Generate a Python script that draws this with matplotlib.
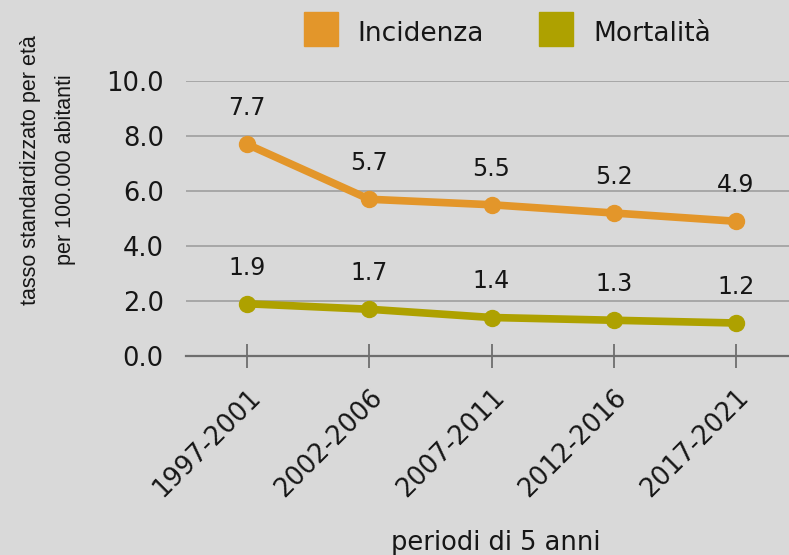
import matplotlib.pyplot as plt
from matplotlib.lines import Line2D

plt.rcParams['font.family'] = ['DejaVu Sans']

periods = ['1997-2001', '2002-2006', '2007-2011', '2012-2016', '2017-2021']
incidenza = [7.7, 5.7, 5.5, 5.2, 4.9]
mortalita = [1.9, 1.7, 1.4, 1.3, 1.2]
yticks = [0, 2, 4, 6, 8, 10]

c_inc = '#e3962a'
c_mor = '#aea100'
bg = '#d9d9d9'
txt = '#161616'

fig = plt.figure(figsize=(7.89, 5.55), dpi=100, facecolor=bg)
ax = fig.add_axes([186 / 789, 199 / 555, 611 / 789, 275 / 555], facecolor=bg)

x = list(range(len(periods)))
for vals, col in [(incidenza, c_inc), (mortalita, c_mor)]:
    ax.plot(x, vals, color=col, lw=5.5, marker='o', ms=11.5, solid_capstyle='round', zorder=3)
    for xi, v in zip(x, vals):
        ax.annotate('%.1f' % v, (xi, v), xytext=(0, 21), textcoords='offset points',
                    ha='center', va='baseline', fontsize=17, color=txt)

ax.set_xlim(-0.5, 4.5)
ax.set_ylim(0, 10)
ax.set_yticks(yticks)
ax.set_yticklabels(['%.1f' % t for t in yticks], fontsize=18.5, color=txt)
ax.yaxis.grid(True, color='#a3a3a3', lw=1.3)
ax.set_axisbelow(True)
ax.tick_params(axis='y', length=0, pad=16)

ax.set_xticks(x)
ax.set_xticklabels(periods, rotation=45, ha='right', va='top', rotation_mode='anchor',
                   fontsize=18.5, color=txt)
ax.tick_params(axis='x', direction='inout', length=17, width=1.3, color='#6e6e6e', pad=12)

for s in ['top', 'right', 'left']:
    ax.spines[s].set_visible(False)
ax.spines['bottom'].set_color('#6e6e6e')
ax.spines['bottom'].set_linewidth(1.6)

fig.text(48 / 789, 1 - 170 / 555, 'tasso standardizzato per età\nper 100.000 abitanti',
         rotation=90, ha='center', va='center', fontsize=15.5, color=txt,
         family='Liberation Sans', linespacing=1.85, multialignment='center')
fig.text(496 / 789, 1 - 550 / 555, 'periodi di 5 anni', ha='center', va='baseline',
         fontsize=18.5, color=txt)

handles = [Line2D([], [], ls='', marker='s', ms=25, color=c_inc),
           Line2D([], [], ls='', marker='s', ms=25, color=c_mor)]
fig.legend(handles, ['Incidenza', 'Mortalità'], ncol=2, loc='center left',
           bbox_to_anchor=(303 / 789, 1 - 32 / 555), frameon=False, fontsize=19,
           borderpad=0, borderaxespad=0, handlelength=1.33, handleheight=1.33,
           handletextpad=0.72, columnspacing=2.1, labelcolor=txt)

fig.savefig('out.png', dpi=100, facecolor=bg)
